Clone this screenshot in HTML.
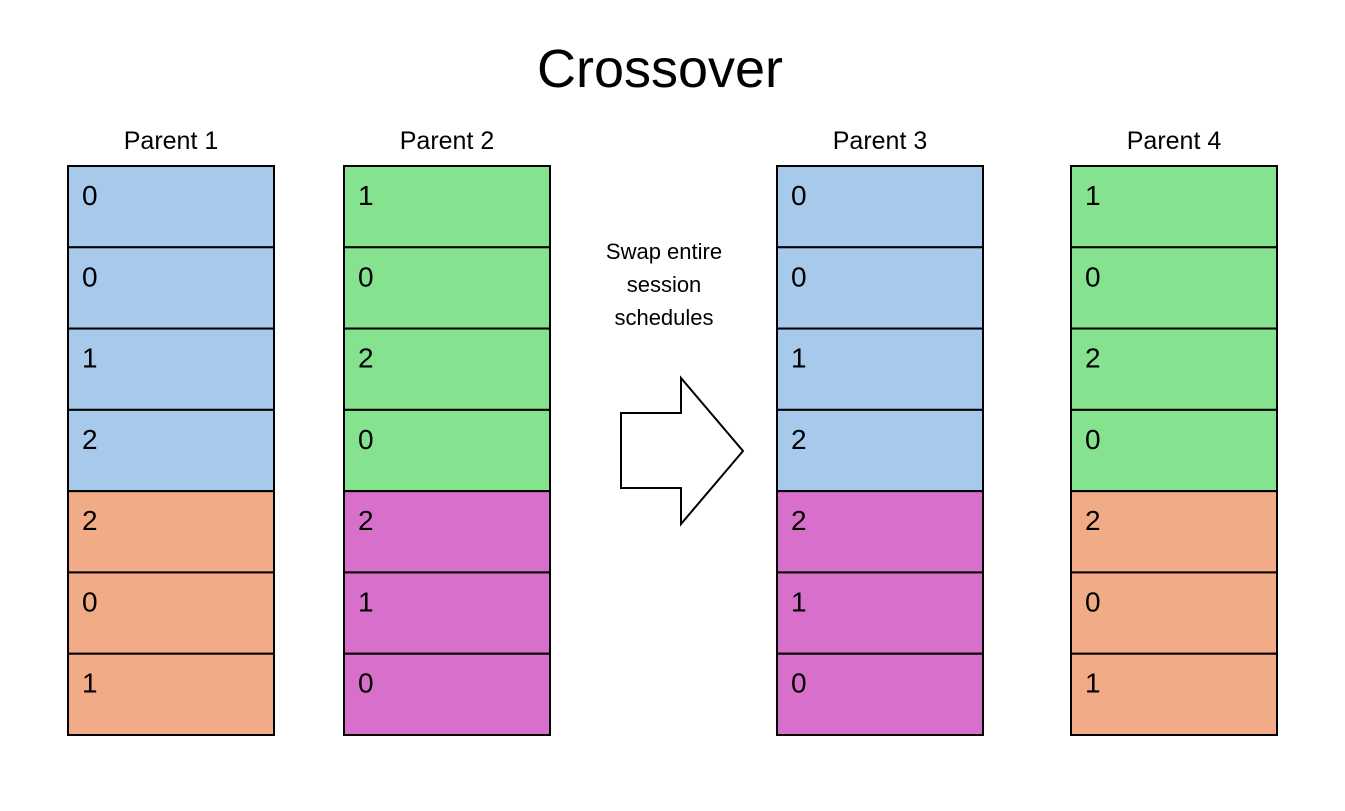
<!DOCTYPE html>
<html><head><meta charset="utf-8"><style>
html,body{margin:0;padding:0;background:#fff;}
svg{display:block;font-family:"Liberation Sans",Arial,sans-serif;}
</style></head><body>
<svg id="chart" width="1345" height="811" viewBox="0 0 1345 811">
<text x="660" y="87" text-anchor="middle" font-size="54" fill="#000">Crossover</text>
<text x="664" y="259" text-anchor="middle" font-size="22">Swap entire</text>
<text x="664" y="292" text-anchor="middle" font-size="22">session</text>
<text x="664" y="325" text-anchor="middle" font-size="22">schedules</text>
<polygon points="621,413 681,413 681,378 743,451 681,524 681,488 621,488" fill="#fff" stroke="#000" stroke-width="2"/>
<g id="cols"></g>
</svg>
<script>
const parentNames = ["Parent 1","Parent 2","Parent 3","Parent 4"];
const geneValues = [
  [0,0,1,2,2,0,1],
  [1,0,2,0,2,1,0],
  [0,0,1,2,2,1,0],
  [1,0,2,0,2,0,1]
];
const geneGroups = [
  ["a","a","a","a","b","b","b"],
  ["c","c","c","c","d","d","d"],
  ["a","a","a","a","d","d","d"],
  ["c","c","c","c","b","b","b"]
];
const groupColor = {a:"#a6c9ec", b:"#f1ab86", c:"#85e28f", d:"#d870cb"};
const colX = [68,344,777,1071];
const colW = 206, yTop = 166, yBottom = 735;
const colsG = document.getElementById('cols');
const NS = "http://www.w3.org/2000/svg";
parentNames.forEach((name, c) => {
  const n = geneValues[c].length;
  const h = (yBottom - yTop) / n;
  const lab = document.createElementNS(NS, 'text');
  
  
  lab.setAttribute('x', colX[c] + colW/2);
  lab.setAttribute('y', 149);
  lab.setAttribute('text-anchor', 'middle');
  lab.setAttribute('font-size', '25');
  lab.textContent = name;
  colsG.appendChild(lab);
  geneValues[c].forEach((v, i) => {
    const r = document.createElementNS(NS, 'rect');
    
    
    r.setAttribute('x', colX[c]);
    r.setAttribute('y', yTop + i*h);
    r.setAttribute('width', colW);
    r.setAttribute('height', h);
    r.setAttribute('fill', groupColor[geneGroups[c][i]]);
    r.setAttribute('stroke', '#000');
    r.setAttribute('stroke-width', '2');
    colsG.appendChild(r);
    const t = document.createElementNS(NS, 'text');
    
    
    t.setAttribute('x', colX[c] + 14);
    t.setAttribute('y', yTop + i*h + 39);
    t.setAttribute('font-size', '28');
    t.textContent = v;
    colsG.appendChild(t);
  });
});
</script>
</body></html>
